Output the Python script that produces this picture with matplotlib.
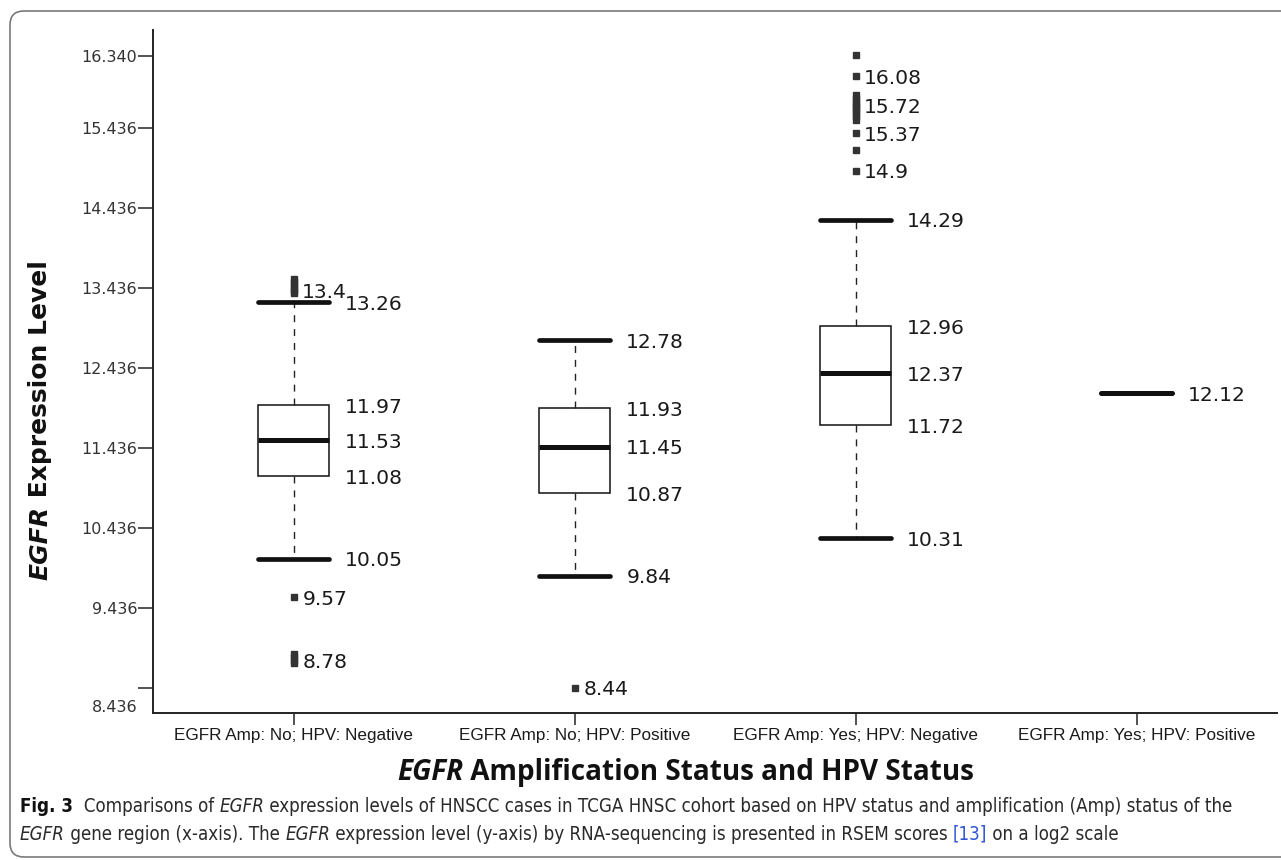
import matplotlib
matplotlib.use("Agg")
import matplotlib.pyplot as plt
from matplotlib import font_manager as fm
from matplotlib.font_manager import FontProperties
from matplotlib.patches import FancyBboxPatch
from matplotlib.transforms import IdentityTransform, ScaledTranslation

W, H, DPI = 1281, 860, 100

# ---------------- data ----------------
categories = ["EGFR Amp: No; HPV: Negative", "EGFR Amp: No; HPV: Positive",
              "EGFR Amp: Yes; HPV: Negative", "EGFR Amp: Yes; HPV: Positive"]
whisker_low = [10.05, 9.84, 10.31, 12.12]
q1 = [11.08, 10.87, 11.72, 12.12]
median = [11.53, 11.45, 12.37, 12.12]
q3 = [11.97, 11.93, 12.96, 12.12]
whisker_high = [13.26, 12.78, 14.29, 12.12]
outliers = [
    [13.37, 13.40, 13.43, 13.47, 13.51, 13.55, 9.57, 8.75, 8.78, 8.82, 8.86],
    [8.44],
    [14.90, 15.16, 15.37, 15.54, 15.58, 15.62, 15.66, 15.70, 15.72, 15.76,
     15.80, 15.85, 16.08, 16.35],
    [],
]
labeled_outliers = [[13.4, 9.57, 8.78], [8.44], [16.08, 15.72, 15.37, 14.9], []]
y_ticks = [8.436, 9.436, 10.436, 11.436, 12.436, 13.436, 14.436, 15.436, 16.340]
y_tick_labels = ["8.436", "9.436", "10.436", "11.436", "12.436", "13.436",
                 "14.436", "15.436", "16.340"]
x_title = ("EGFR", " Amplification Status and HPV Status")
y_title = ("EGFR", " Expression Level")


def has_font(name):
    try:
        fm.findfont(FontProperties(family=name), fallback_to_default=False)
        return True
    except Exception:
        return False


TITLE = "Open Sans" if has_font("Open Sans") else "DejaVu Sans"
if has_font("Liberation Sans Narrow"):
    CAP_FAMILY, CAP_STRETCH = "Liberation Sans Narrow", "normal"
else:
    try:
        _p = fm.findfont(FontProperties(family="DejaVu Sans", stretch="condensed"))
    except Exception:
        _p = ""
    if "Condensed" in _p:
        CAP_FAMILY, CAP_STRETCH = "DejaVu Sans", "condensed"
    else:
        CAP_FAMILY, CAP_STRETCH = "Liberation Sans", "normal"

fig = plt.figure(figsize=(W / DPI, H / DPI), dpi=DPI)
fig.patch.set_facecolor("white")
renderer = fig.canvas.get_renderer()

ax = fig.add_axes([153 / W, 1 - 713 / H, (1277 - 153) / W, (713 - 30) / H])

positions = list(range(1, len(categories) + 1))
stats = []
for i in range(len(categories)):
    stats.append(dict(label=categories[i], whislo=whisker_low[i], q1=q1[i],
                      med=median[i], q3=q3[i], whishi=whisker_high[i],
                      fliers=outliers[i]))

ax.bxp(stats, positions=positions, widths=0.25, capwidths=0.25,
       patch_artist=True, showfliers=True,
       boxprops=dict(facecolor="white", edgecolor="#111111", linewidth=1.1),
       medianprops=dict(color="#111111", linewidth=3.6, solid_capstyle="butt"),
       whiskerprops=dict(color="#222222", linewidth=1.0, linestyle=(0, (5, 5))),
       capprops=dict(color="#111111", linewidth=3.4, solid_capstyle="round"),
       flierprops=dict(marker="s", markersize=4.0, markerfacecolor="#333333",
                       markeredgecolor="#333333", linestyle="none"))

label_fp = FontProperties(family="DejaVu Sans", size=14.6)
for i, p in enumerate(positions):
    if q1[i] == q3[i]:
        vals = [median[i]]
    else:
        vals = [whisker_high[i], q3[i], median[i], q1[i], whisker_low[i]]
    for v in vals:
        ax.annotate(f"{v:g}", xy=(p + 0.125, v), xytext=(12, 0),
                    textcoords="offset points", ha="left", va="center_baseline",
                    fontproperties=label_fp, color="#1a1a1a")
    for v in labeled_outliers[i]:
        ax.annotate(f"{v:g}", xy=(p, v), xytext=(6.3, 0),
                    textcoords="offset points", ha="left", va="center_baseline",
                    fontproperties=label_fp, color="#1a1a1a")

ax.set_xlim(0.5, 4.5)
ax.set_ylim(8.1235, 16.661)
ax.set_yticks(y_ticks)
ax.set_yticklabels(y_tick_labels, fontproperties=FontProperties(family="DejaVu Sans", size=11.5))
ax.set_xticks(positions)
ax.set_xticklabels(categories, fontproperties=FontProperties(family="Liberation Sans", size=12.3))
for s in ["top", "right"]:
    ax.spines[s].set_visible(False)
for s in ["left", "bottom"]:
    ax.spines[s].set_linewidth(1.4)
    ax.spines[s].set_color("#222222")
ax.tick_params(axis="y", direction="out", length=10.8, width=1.1, pad=0.5,
               labelcolor="#333333", color="#222222")
ax.tick_params(axis="x", direction="out", length=8.6, width=1.1, pad=2.5,
               labelcolor="#1a1a1a", color="#222222")
# the lowest tick label sits below its tick in the reference
first = ax.get_yticklabels()[0]
first.set_transform(first.get_transform() + ScaledTranslation(0, -0.18, fig.dpi_scale_trans))


# ---------------- rich text helpers ----------------
def adv(s, fp):
    t = fig.text(0, 0, "|" + s + "|", fontproperties=fp)
    w1 = t.get_window_extent(renderer).width
    t.set_text("||")
    w2 = t.get_window_extent(renderer).width
    t.remove()
    return w1 - w2


def total_adv(runs):
    return sum(adv(s, fp) for s, fp, c in runs)


def draw_runs(x0, y0, runs, rotation=0):
    pos = 0.0
    for s, fp, color in runs:
        if rotation == 0:
            fig.text((x0 + pos) / W, 1 - y0 / H, s, fontproperties=fp, color=color,
                     ha="left", va="baseline")
        else:
            fig.text(x0 / W, 1 - (y0 - pos) / H, s, fontproperties=fp, color=color,
                     rotation=90, rotation_mode="anchor", ha="left", va="baseline")
        pos += adv(s, fp)


def fp_(family, size, weight="normal", style="normal", stretch="normal"):
    return FontProperties(family=family, size=size, weight=weight, style=style,
                          stretch=stretch)


# y title
def y_runs(sz):
    return [(y_title[0], fp_("DejaVu Sans", sz, "bold", "oblique"), "#111111"),
            (y_title[1], fp_("DejaVu Sans", sz, "bold"), "#111111")]


sz = 18 * 320 / total_adv(y_runs(18))
draw_runs(47, 580, y_runs(sz), rotation=90)


# x title
def x_runs(sz):
    return [(x_title[0], fp_(TITLE, sz, "bold", "italic"), "#111111"),
            (x_title[1], fp_(TITLE, sz, "bold"), "#111111")]


sz = 17 * 576 / total_adv(x_runs(17))
draw_runs(397, 780, x_runs(sz))

# caption
CAP_C = "#2a2a2a"
BLUE = "#2f55d4"


def cap_lines(sz):
    reg = fp_(CAP_FAMILY, sz, stretch=CAP_STRETCH)
    it = fp_(CAP_FAMILY, sz, style="italic", stretch=CAP_STRETCH)
    bd = fp_(CAP_FAMILY, sz, "bold", stretch=CAP_STRETCH)
    line1 = [("Fig. 3", bd, "#111111"), ("  Comparisons of ", reg, CAP_C), ("EGFR", it, CAP_C),
             (" expression levels of HNSCC cases in TCGA HNSC cohort based on HPV status "
              "and amplification (Amp) status of the", reg, CAP_C)]
    line2 = [("EGFR", it, CAP_C), (" gene region (x-axis). The ", reg, CAP_C), ("EGFR", it, CAP_C),
             (" expression level (y-axis) by RNA-sequencing is presented in RSEM scores ", reg, CAP_C),
             ("[13]", reg, BLUE), (" on a log2 scale", reg, CAP_C)]
    return line1, line2


l1, _ = cap_lines(14)
prefix = l1[:3] + [(" expression levels of ", l1[3][1], CAP_C)]
sz = 14 * 425 / total_adv(prefix)
l1, l2 = cap_lines(sz)
draw_runs(20, 812, l1)
draw_runs(20, 840, l2)

# rounded frame
frame = FancyBboxPatch((10, 3), 1400, 846, boxstyle="round,pad=0,rounding_size=14",
                       transform=IdentityTransform(), fill=False,
                       edgecolor="#7a7a7a", linewidth=1.2)
fig.add_artist(frame)

fig.savefig("out.png", dpi=DPI, facecolor="white")
